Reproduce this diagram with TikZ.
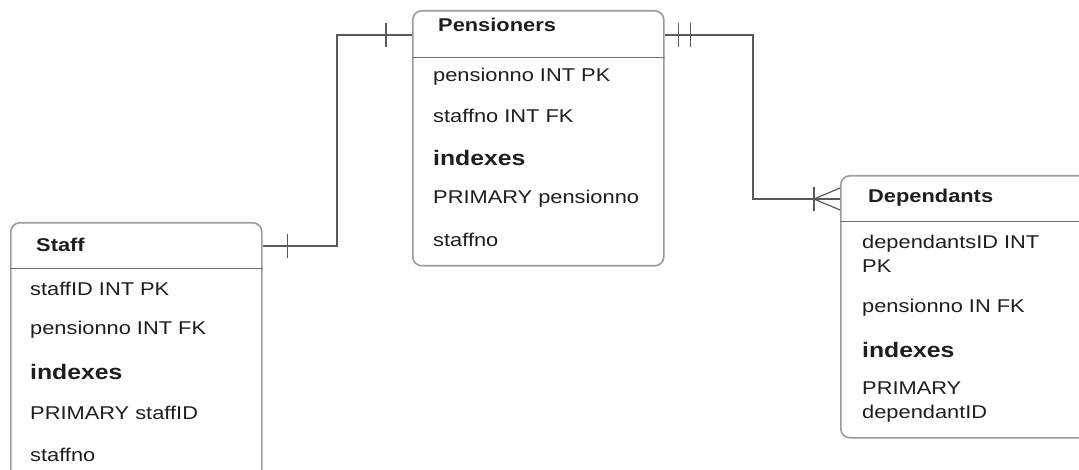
\documentclass[tikz,border=0pt]{standalone}
\usepackage{fontspec}
\setmainfont{Liberation Sans}[FakeStretch=1.18]
\usetikzlibrary{calc,positioning}
\definecolor{Frame}{HTML}{9C9C9C}
\definecolor{Rule}{HTML}{6E6E6E}
\definecolor{Wire}{HTML}{5A5A5A}
\definecolor{Ink}{HTML}{1E1E1E}
\tikzset{
  table/.style={draw=Frame,line width=1.6pt,rounded corners=9pt,fill=white,
    inner sep=0pt,anchor=north west},
  title/.style={font=\fontsize{18.5}{24}\selectfont\bfseries,text=Ink,anchor=west},
  field/.style={font=\fontsize{18.5}{24}\selectfont,text=Ink,anchor=west,align=left,inner sep=0pt},
  keyhead/.style={font=\fontsize{21}{26}\selectfont\bfseries,text=Ink,anchor=west,inner sep=0pt},
  wire/.style={draw=Wire,line width=1.2pt},
}

\begin{document}
\begin{tikzpicture}[x=1pt,y=-1pt]
\useasboundingbox (0,0) rectangle (1079,470);
\clip (0,0) rectangle (1079,470);

% Staff table.
\node[table,minimum width=251pt,minimum height=270pt] (staff) at (10,222) {};
\draw[Rule,line width=1pt] ([yshift=-47pt]staff.north west)--([yshift=-47pt]staff.north east);
\coordinate (staffport) at ([yshift=-24pt]staff.north east);
\node[title,inner sep=0pt] (stafftitle) at (36,245) {Staff};
\node[field] (staffa) at (30,289) {staffID INT PK};
\node[field] (staffb) at (30,330) {pensionno INT FK};
\node[keyhead] (staffc) at (30,372) {indexes};
\node[field] (staffd) at (30,413) {PRIMARY staffID};
\node[field] (staffe) at (30,455) {staffno};

% Pensioners table.
\node[table,minimum width=251pt,minimum height=255pt] (pens) at (412,10) {};
\draw[Rule,line width=1pt] ([yshift=-48pt]pens.north west)--([yshift=-48pt]pens.north east);
\coordinate (pensinport) at ([yshift=-25pt]pens.north west);
\coordinate (pensoutport) at ([yshift=-25pt]pens.north east);
\node[title,inner sep=0pt] (penstitle) at (438,25) {Pensioners};
\node[field] (pensa) at (433,77) {pensionno INT PK};
\node[field] (pensb) at (433,116) {staffno INT FK};
\node[keyhead] (pensc) at (433,158) {indexes};
\node[field] (pensd) at (433,199) {PRIMARY pensionno};
\node[field] (pense) at (433,240) {staffno};

% Dependants table.
\node[table,minimum width=262pt,minimum height=262pt] (dep) at (840,175) {};
\draw[Rule,line width=1pt] ([yshift=-47pt]dep.north west)--([yshift=-47pt]dep.north east);
\coordinate (depport) at ([yshift=-24pt]dep.north west);
\node[title,inner sep=0pt] (deptitle) at (868,198) {Dependants};
\node[field] (depa) at (862,254) {dependantsID INT\\PK};
\node[field] (depb) at (862,308) {pensionno IN FK};
\node[keyhead] (depc) at (862,350) {indexes};
\node[field] (depd) at (862,402) {PRIMARY\\dependantID};

% Staff -- Pensioners, one to one.
\coordinate (bendA) at (337,0);
\draw[wire] (staffport)--(staffport -| bendA)--(pensinport -| bendA)--(pensinport);
\draw[wire] ([xshift=25pt]staffport) ++(0,-12)--++(0,24);
\draw[wire] ([xshift=-26pt]pensinport) ++(0,-12)--++(0,24);

% Pensioners -- Dependants, one to many.
\coordinate (bendB) at (753,0);
\draw[wire] (pensoutport)--(pensoutport -| bendB)--(depport -| bendB)--(depport);
\draw[wire] ([xshift=14pt]pensoutport) ++(0,-12)--++(0,24);
\draw[wire] ([xshift=26pt]pensoutport) ++(0,-12)--++(0,24);
\draw[wire] ([xshift=-26pt]depport) ++(0,-12)--++(0,24);
\draw[wire] ([yshift=11pt]depport)--([xshift=-26pt]depport)--([yshift=-11pt]depport);
\end{tikzpicture}
\end{document}
